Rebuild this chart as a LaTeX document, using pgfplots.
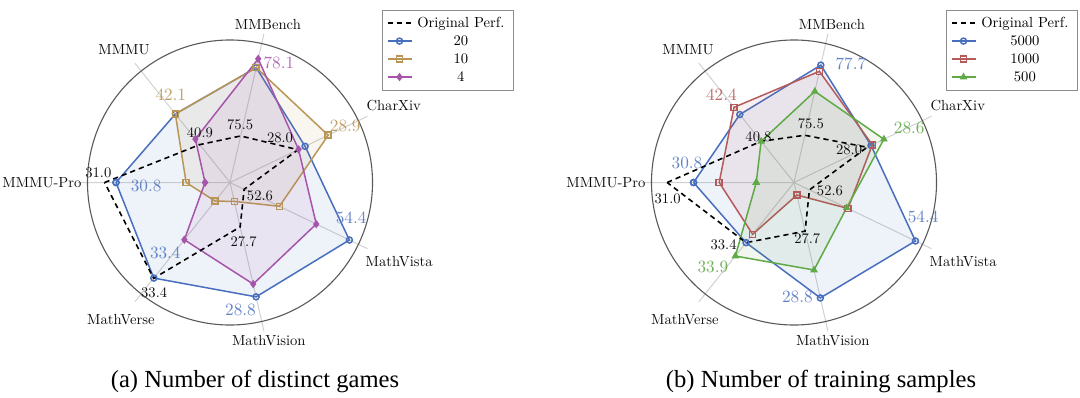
\documentclass[border=0pt]{standalone}
\usepackage{fontspec}
\usepackage{pgfplots}
\pgfplotsset{compat=1.18}
\usepgfplotslibrary{polar}
\newfontfamily\capfont{Liberation Serif}
\definecolor{cblue}{RGB}{72,110,190}
\definecolor{cgold}{RGB}{185,150,85}
\definecolor{cpurple}{RGB}{165,85,170}
\definecolor{cred}{RGB}{180,90,90}
\definecolor{cgreen}{RGB}{95,170,70}
\newcommand{\txa}[1]{\scalebox{0.73}{\fontsize{10}{12}\selectfont #1}}
\newcommand{\txb}[1]{\scalebox{0.86}{\fontsize{10}{12}\selectfont #1}}
\tikzset{
  axlab/.style={text=black!95, inner sep=0pt},
  vl/.style={text=black!95, inner sep=0pt},
  ser/.style={#1, line width=0.75pt, fill=#1, fill opacity=0.09, mark size=1.5pt},
  orig/.style={black, line width=0.8pt, dash pattern=on 2.6pt off 2pt},
}
\pgfplotsset{
  legend image code/.code={\draw[mark repeat=2,mark phase=2,#1] plot coordinates {(0pt,0pt) (6pt,0pt) (12pt,0pt)};},
  radar/.style={
    scale only axis, width=152.48pt, height=152.48pt,
    xmin=0, xmax=360, ymin=0, ymax=1.07,
    xtick={25.714,77.143,128.571,180,231.429,282.857,334.286},
    xticklabels={}, ytick={1}, yticklabels={},
    xmajorgrids, ymajorgrids,
    major x grid style={black!18, line width=0.5pt},
    major y grid style={black!65, line width=0.55pt},
    axis line style={draw=none},
    major tick length=0pt,
    clip=false,
    legend cell align=center,
    legend style={at={(1.431,1.067)}, anchor=north east,
      draw=black!45, line width=0.5pt, inner sep=2pt, row sep=0pt,
      nodes={inner ysep=1pt, inner xsep=2.5pt, text height=5.5pt, text depth=1.5pt}},
  },
}
\begin{document}
\begin{tikzpicture}
\useasboundingbox (0,0) rectangle (540pt,198.5pt);
% ---------------- (a) ----------------
\begin{polaraxis}[radar, at={(115pt,107.25pt)}, anchor=origin]
\addlegendimage{orig}
\addlegendentry{\txa{Original Perf.}}
\addplot[ser=cblue, mark=o, mark options={solid, fill opacity=0}] coordinates {(180,0.80) (128.571,0.615) (77.143,0.827) (25.714,0.585) (334.286,0.93) (282.857,0.823) (231.429,0.858) (180,0.80)};
\addlegendentry{\txa{20}}
\addplot[ser=cgold, mark=square, mark options={solid, fill opacity=0}] coordinates {(180,0.308) (128.571,0.615) (77.143,0.827) (25.714,0.765) (334.286,0.385) (282.857,0.136) (231.429,0.167) (180,0.308)};
\addlegendentry{\txa{10}}
\addplot[ser=cpurple, mark=diamond*, mark options={solid, fill=cpurple, fill opacity=1}] coordinates {(180,0.175) (128.571,0.39) (77.143,0.89) (25.714,0.534) (334.286,0.672) (282.857,0.731) (231.429,0.514) (180,0.175)};
\addlegendentry{\txa{4}}
\addplot[orig, forget plot] coordinates {(180,0.88) (128.571,0.34) (77.143,0.335) (25.714,0.53) (334.286,0.11) (282.857,0.32) (231.429,0.86) (180,0.88)};
% axis names
\node[axlab] at (axis cs:76.5,1.14) {\txa{MMBench}};
\node[axlab] at (axis cs:128.5,1.195) {\txa{MMMU}};
\node[axlab] at (axis cs:25.2,1.27) {\txa{CharXiv}};
\node[axlab] at (axis cs:180,1.32) {\txa{MMMU-Pro}};
\node[axlab] at (axis cs:-25,1.31) {\txa{MathVista}};
\node[axlab] at (axis cs:-128.5,1.23) {\txa{MathVerse}};
\node[axlab] at (axis cs:-76.2,1.143) {\txa{MathVision}};
% original values
\node[vl] at (axis cs:80,0.41) {\txa{75.5}};
\node[vl] at (axis cs:42,0.472) {\txa{28.0}};
\node[vl] at (axis cs:-24,0.23) {\txa{52.6}};
\node[vl] at (axis cs:-77,0.424) {\txa{27.7}};
\node[vl] at (axis cs:121,0.41) {\txa{40.9}};
\node[vl] at (axis cs:176,0.926) {\txa{31.0}};
\node[vl] at (axis cs:-124.5,0.94) {\txa{33.4}};
% best values
\node[text=cpurple!85, inner sep=0pt] at (axis cs:67.7,0.904) {\txb{78.1}};
\node[text=cgold!90, inner sep=0pt] at (axis cs:124,0.743) {\txb{42.1}};
\node[text=cgold!90, inner sep=0pt] at (axis cs:26,0.90) {\txb{28.9}};
\node[text=cblue!85, inner sep=0pt] at (axis cs:-16.4,0.886) {\txb{54.4}};
\node[text=cblue!85, inner sep=0pt] at (axis cs:-85.3,0.896) {\txb{28.8}};
\node[text=cblue!85, inner sep=0pt] at (axis cs:-132.5,0.672) {\txb{33.4}};
\node[text=cblue!85, inner sep=0pt] at (axis cs:-177.3,0.589) {\txb{30.8}};
\end{polaraxis}
% ---------------- (b) ----------------
\begin{polaraxis}[radar, at={(397pt,107.25pt)}, anchor=origin]
\addlegendimage{orig}
\addlegendentry{\txa{Original Perf.}}
\addplot[ser=cblue, mark=o, mark options={solid, fill opacity=0}] coordinates {(180,0.705) (128.571,0.61) (77.143,0.845) (25.714,0.60) (334.286,0.946) (282.857,0.831) (231.429,0.54) (180,0.705)};
\addlegendentry{\txa{5000}}
\addplot[ser=cred, mark=square, mark options={solid, fill opacity=0}] coordinates {(180,0.525) (128.571,0.675) (77.143,0.80) (25.714,0.61) (334.286,0.42) (282.857,0.09) (231.429,0.465) (180,0.525)};
\addlegendentry{\txa{1000}}
\addplot[ser=cgreen, mark=triangle*, mark options={solid, fill=cgreen, fill opacity=1}] coordinates {(180,0.265) (128.571,0.37) (77.143,0.656) (25.714,0.70) (334.286,0.41) (282.857,0.63) (231.429,0.66) (180,0.265)};
\addlegendentry{\txa{500}}
\addplot[orig, forget plot] coordinates {(180,0.89) (128.571,0.37) (77.143,0.34) (25.714,0.57) (334.286,0.12) (282.857,0.35) (231.429,0.54) (180,0.89)};
\node[axlab] at (axis cs:76.5,1.14) {\txa{MMBench}};
\node[axlab] at (axis cs:128.5,1.195) {\txa{MMMU}};
\node[axlab] at (axis cs:25.2,1.27) {\txa{CharXiv}};
\node[axlab] at (axis cs:180,1.32) {\txa{MMMU-Pro}};
\node[axlab] at (axis cs:-25,1.31) {\txa{MathVista}};
\node[axlab] at (axis cs:-128.5,1.23) {\txa{MathVerse}};
\node[axlab] at (axis cs:-76.2,1.143) {\txa{MathVision}};
\node[vl] at (axis cs:73.9,0.426) {\txa{75.5}};
\node[vl] at (axis cs:127.7,0.408) {\txa{40.8}};
\node[vl] at (axis cs:30.6,0.449) {\txa{28.0}};
\node[vl] at (axis cs:-13,0.259) {\txa{52.6}};
\node[vl] at (axis cs:-76.8,0.408) {\txa{27.7}};
\node[vl] at (axis cs:-138.5,0.66) {\txa{33.4}};
\node[vl] at (axis cs:-172.6,0.894) {\txa{31.0}};
\node[text=cblue!85, inner sep=0pt] at (axis cs:64.4,0.923) {\txb{77.7}};
\node[text=cred!90, inner sep=0pt] at (axis cs:129.6,0.80) {\txb{42.4}};
\node[text=cgreen!90, inner sep=0pt] at (axis cs:25.5,0.896) {\txb{28.6}};
\node[text=cblue!85, inner sep=0pt] at (axis cs:-15,0.938) {\txb{54.4}};
\node[text=cblue!85, inner sep=0pt] at (axis cs:-88.3,0.805) {\txb{28.8}};
\node[text=cgreen!90, inner sep=0pt] at (axis cs:-133.8,0.822) {\txb{33.9}};
\node[text=cblue!85, inner sep=0pt] at (axis cs:169.8,0.763) {\txb{30.8}};
\end{polaraxis}
\node[font=\capfont\fontsize{12.3}{14}\selectfont] at (127.5pt,8pt) {(a) Number of distinct games};
\node[font=\capfont\fontsize{12.3}{14}\selectfont] at (410.5pt,8pt) {(b) Number of training samples};
\end{tikzpicture}
\end{document}
